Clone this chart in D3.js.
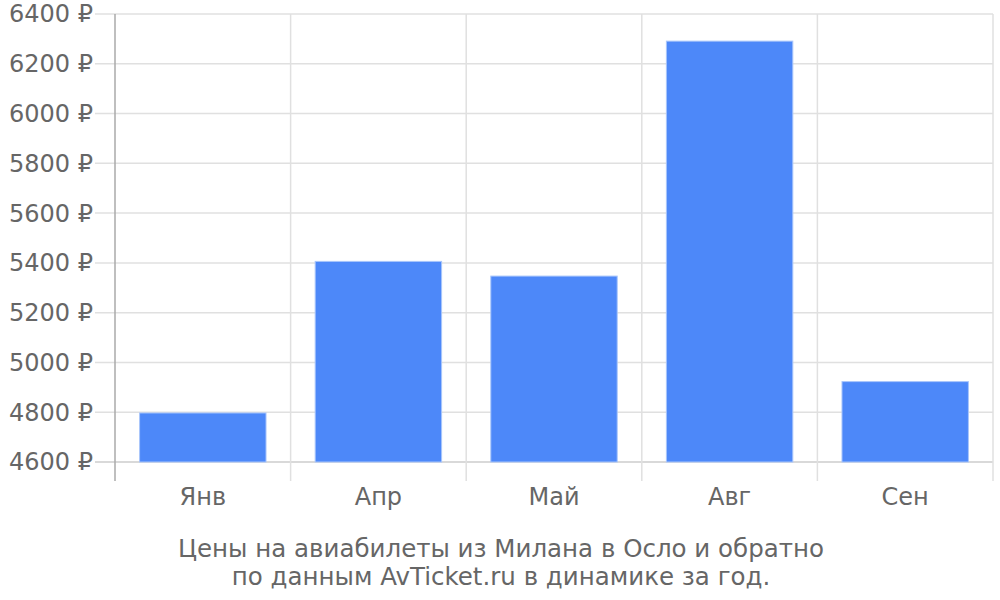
<!DOCTYPE html>
<html><head><meta charset="utf-8">
<script src="https://cdn.jsdelivr.net/npm/d3@7"></script>
<style>body{margin:0;background:#fff}svg{display:block}</style>
</head><body><svg id="c" width="1000" height="600"></svg>
<script>
const categories = ["Янв","Апр","Май","Авг","Сен"];
const values = [4797, 5406, 5347, 6291, 4923];
const yTicks = [4600,4800,5000,5200,5400,5600,5800,6000,6200,6400];
const captionLines = ["Цены на авиабилеты из Милана в Осло и обратно","по данным AvTicket.ru в динамике за год."];

(function(){
const svg = d3.select("#c");
const mLeft = 115, mRight = 993, mTop = 14, mBottom = 462;
const font = "'DejaVu Sans', sans-serif";
const fs = 24;
const x = d3.scaleBand().domain(categories).range([mLeft, mRight]).paddingInner(0.28).paddingOuter(0.14);
const xb = d3.scaleBand().domain(categories).range([mLeft, mRight]);
const y = d3.scaleLinear().domain([4600, 6400]).range([mBottom, mTop]);

svg.append("g").selectAll("line").data(yTicks).join("line")
  .attr("x1", 95).attr("x2", mRight).attr("y1", d=>y(d)).attr("y2", d=>y(d))
  .attr("stroke", d=> d===4600 ? "#ccc" : "#e0e0e0").attr("stroke-width", 1.5);
const bounds = categories.map(c=>xb(c)).concat([mRight]);
svg.append("g").selectAll("line").data(bounds).join("line")
  .attr("x1", d=>d).attr("x2", d=>d).attr("y1", mTop).attr("y2", 481)
  .attr("stroke", (d,i)=> i===0 ? "#aaa" : "#e0e0e0").attr("stroke-width", 1.5);

svg.append("g").selectAll("text").data(yTicks).join("text")
  .attr("x", 93).attr("y", d=>y(d)).attr("dy","0.35em").attr("text-anchor","end")
  .attr("font-family", font).attr("font-size", fs).attr("fill", "#666")
  .text(d=>d + " ₽");

svg.append("g").selectAll("rect").data(values).join("rect")
  .attr("x", (d,i)=>x(categories[i])).attr("width", x.bandwidth())
  .attr("y", d=>y(d)).attr("height", d=>mBottom - y(d))
  .attr("fill", "#4d88f9").attr("stroke", "#a9c6fb").attr("stroke-width", 1);

svg.append("g").selectAll("text").data(categories).join("text")
  .attr("x", d=>xb(d)+xb.bandwidth()/2).attr("y", 497).attr("dy","0.35em")
  .attr("text-anchor","middle").attr("font-family", font).attr("font-size", fs).attr("fill", "#666")
  .text(d=>d);

svg.append("g").selectAll("text").data(captionLines).join("text")
  .attr("x", 501).attr("y", (d,i)=>548 + i*28).attr("dy","0.35em")
  .attr("text-anchor","middle").attr("font-family", font).attr("font-size", 24.5).attr("fill", "#666")
  .text(d=>d);
})();
</script></body></html>
